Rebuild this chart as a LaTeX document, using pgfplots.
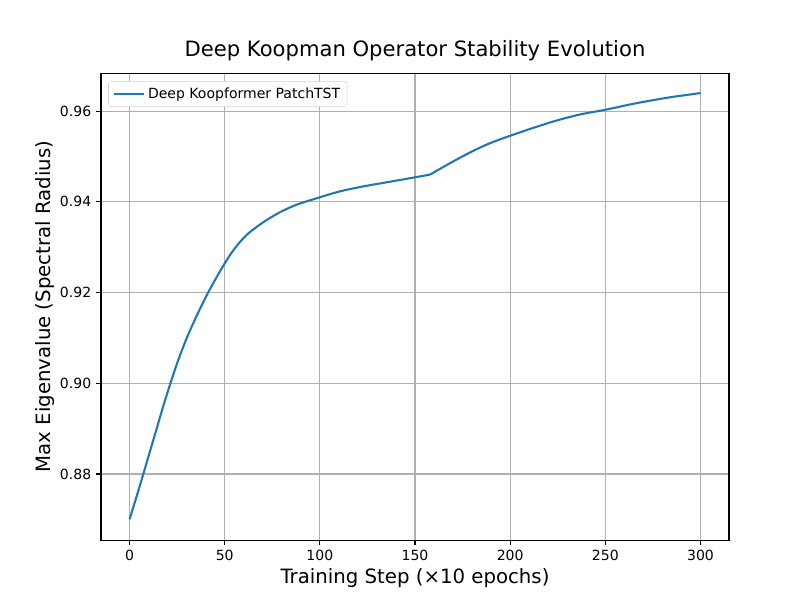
\documentclass[border=0pt]{standalone}
\usepackage{pgfplots}
\pgfplotsset{compat=1.18}
\usepackage{fontspec}
\setmainfont{DejaVu Sans}
\definecolor{tabblue}{HTML}{1F77B4}
\definecolor{gridgray}{HTML}{B0B0B0}
\begin{document}
\begin{tikzpicture}
\path[use as bounding box] (0,0) rectangle (583.2pt,437.04pt);
\begin{axis}[
  at={(72.7pt,48.2pt)}, anchor=south west,
  scale only axis, width=452.2pt, height=336.2pt,
  xmin=-15, xmax=315, ymin=0.86545, ymax=0.96837,
  xtick={0,50,100,150,200,250,300},
  ytick={0.88,0.90,0.92,0.94,0.96},
  yticklabel style={/pgf/number format/.cd,fixed,fixed zerofill,precision=2},
  /pgf/number format/assume math mode=true,
  tick label style={font=\fontsize{10.1}{12}\selectfont, black},
  tick align=outside, major tick length=3.5pt,
  xtick pos=bottom, ytick pos=left,
  grid=major, major grid style={gridgray, line width=0.8pt},
  axis line style={line width=0.8pt},
  every tick/.style={black, line width=0.8pt},
  title={Deep Koopman Operator Stability Evolution},
  title style={font=\fontsize{15.2}{18}\selectfont, at={(axis description cs:0.5,1)}, anchor=base, yshift=5.8pt},
  xlabel={Training Step (×10 epochs)},
  ylabel={Max Eigenvalue (Spectral Radius)},
  label style={font=\fontsize{14.2}{17}\selectfont},
  xlabel style={at={(axis description cs:0.5,-0.0814)}, anchor=center},
  ylabel style={at={(axis description cs:-0.0892,0.5)}, anchor=center},
  legend style={font=\fontsize{10.1}{12}\selectfont, draw=gray!35, rounded corners=2pt,
    at={(0.0115,0.983)}, anchor=north west, inner xsep=3pt, inner ysep=2.5pt,
    /tikz/every even column/.append style={column sep=4pt}},
  legend image code/.code={\draw[#1] (0pt,0pt) -- (22pt,0pt);},
  legend cell align=left,
]
\addplot[tabblue, line width=1.5pt, smooth, tension=0.5] coordinates {
(0,0.8700) (3.6,0.8749) (7.1,0.8798) (10.6,0.8848) (14.2,0.8899) (17.6,0.8948)
(21.5,0.9000) (25.5,0.9050) (29.9,0.9098) (35.2,0.9148) (41.3,0.9200) (48.4,0.9253)
(54.5,0.9293) (61.5,0.9327) (70.3,0.9355) (79,0.9377) (88,0.9394) (100,0.9410)
(110.5,0.9423) (122.8,0.9434) (135.1,0.9443) (150,0.9454) (157.9,0.9460)
};
\addlegendentry{Deep Koopformer PatchTST}
\addplot[tabblue, line width=1.5pt, smooth, tension=0.5, forget plot] coordinates {
(157.9,0.9460) (168.4,0.94852) (178.9,0.95088) (189.5,0.95294) (200,0.95456)
(212.3,0.95632) (224.6,0.95794) (236.8,0.95926) (250,0.96029) (264.9,0.96162)
(282.5,0.96294) (300,0.96397)
};
\end{axis}
\end{tikzpicture}
\end{document}
